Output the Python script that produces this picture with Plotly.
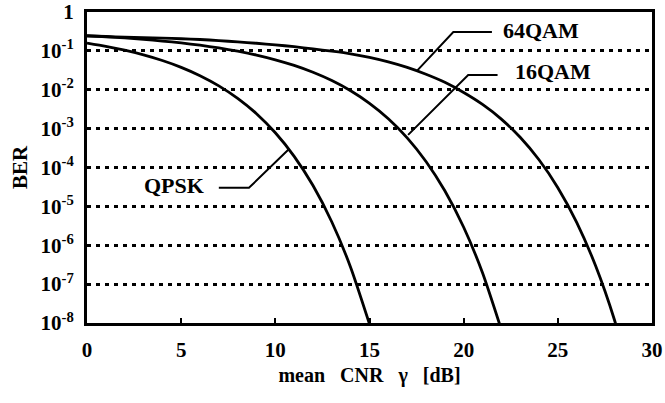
import plotly.graph_objects as go

# ---- data ----
cnr_db = [0, 1, 2, 3, 4, 5, 6, 7, 8, 9, 10, 11, 12, 13, 14, 15,
          16, 17, 18, 19, 20, 21, 22, 23, 24, 25, 26, 27, 28, 29]

ber_qpsk = [0.159, 0.131, 0.104, 0.0789, 0.0565, 0.0377, 0.0230, 0.0126, 0.0060,
            0.00242, 7.83e-4, 1.94e-4, 3.43e-5, 3.97e-6, 2.69e-7, 9.4e-9]

ber_16qam = [0.246, 0.231, 0.215, 0.198, 0.179, 0.160, 0.140, 0.119, 0.098,
             0.078, 0.059, 0.0422, 0.0281, 0.0172, 0.0094, 0.00446,
             0.00179, 5.8e-4, 1.43e-4, 2.52e-5, 2.9e-6, 1.96e-7, 6.8e-9]

ber_64qam = [0.241, 0.234, 0.227, 0.220, 0.213, 0.205, 0.196, 0.184, 0.170,
             0.157, 0.143, 0.128, 0.112, 0.098, 0.084, 0.0680, 0.0520,
             0.0375, 0.0250, 0.0155, 0.00849, 0.00419, 0.00176, 5.98e-4,
             1.58e-4, 3.03e-5, 3.9e-6, 3.0e-7, 1.23e-8, 2.2e-10]

series_names = ["QPSK", "16QAM", "64QAM"]

y_tick_vals = [1, 1e-1, 1e-2, 1e-3, 1e-4, 1e-5, 1e-6, 1e-7, 1e-8]
y_tick_text = ["1", "10<sup>-1</sup>", "10<sup>-2</sup>", "10<sup>-3</sup>",
               "10<sup>-4</sup>", "10<sup>-5</sup>", "10<sup>-6</sup>",
               "10<sup>-7</sup>", "10<sup>-8</sup>"]
x_tick_vals = [0, 5, 10, 15, 20, 25, 30]
x_tick_text = ["0", "5", "10", "15", "20", "25", "30"]

# ---- styling / layout ----
FONT = "Liberation Serif"
TICKF = dict(family=FONT, size=21, color="black", weight="bold")
LABF = dict(family=FONT, size=22, color="black", weight="bold")
fig = go.Figure()

for name, ys in zip(series_names, [ber_qpsk, ber_16qam, ber_64qam]):
    fig.add_trace(go.Scatter(x=cnr_db[:len(ys)], y=ys, mode="lines", name=name,
                             line=dict(color="black", width=2.8, shape="spline", smoothing=0.6),
                             showlegend=False, hoverinfo="skip"))

# leader lines for the labels (annotation geometry)
leaders = {
    "64QAM": ([21.5, 19.45, 17.53], [0.306, 0.306, 0.031]),
    "16QAM": ([21.8, 20.24, 17.05], [0.024, 0.024, 6.9e-4]),
    "QPSK": ([7.0, 8.6, 10.7], [3.0e-5, 3.0e-5, 2.9e-4]),
}
for name, (lx, ly) in leaders.items():
    fig.add_trace(go.Scatter(x=lx, y=ly, mode="lines", showlegend=False, hoverinfo="skip",
                             line=dict(color="black", width=2)))

label_pos = {
    "64QAM": (22.0, -0.463, "left"),
    "16QAM": (22.6, -1.54, "left"),
    "QPSK": (6.3, -4.47, "right"),
}
for name, (ax_, ay_, anchor) in label_pos.items():
    fig.add_annotation(x=ax_, y=ay_, xref="x", yref="y", text=name,
                       showarrow=False, xanchor=anchor, yanchor="middle", font=LABF)

fig.update_layout(
    width=665, height=403,
    margin=dict(l=87, r=13, t=12, b=80),
    paper_bgcolor="white", plot_bgcolor="white",
    font=TICKF,
)

NB = "\u00a0"
fig.update_xaxes(
    range=[0, 30], tickvals=x_tick_vals, ticktext=x_tick_text,
    tickfont=TICKF, ticklabeloverflow="allow",
    showgrid=False, zeroline=False, automargin=False,
    showline=True, linecolor="black", linewidth=3, mirror=True,
    ticks="inside", ticklen=5, tickwidth=1.5, tickcolor="black",
    ticklabelstandoff=6,
    title=dict(text="mean" + NB * 3 + "CNR" + NB * 3 + "γ" + NB * 3 + "[dB]",
               font=dict(family=FONT, size=20, color="black", weight="bold"),
               standoff=7),
)

fig.update_yaxes(
    type="log", range=[-8, 0], tickvals=y_tick_vals, ticktext=y_tick_text,
    tickfont=TICKF, ticklabeloverflow="allow",
    showgrid=True, gridcolor="black", gridwidth=2.5, griddash="4px,5px",
    zeroline=False, automargin=False,
    showline=True, linecolor="black", linewidth=3, mirror=True,
    ticks="", ticklabelstandoff=6,
    title=dict(text="BER", font=dict(family=FONT, size=21, color="black", weight="bold"),
               standoff=8),
)

# remove the default 8px page margin so the figure sits at the page origin
fig.write_html("out.html", config={"displayModeBar": False},
               post_script="document.body.style.margin='0';")
